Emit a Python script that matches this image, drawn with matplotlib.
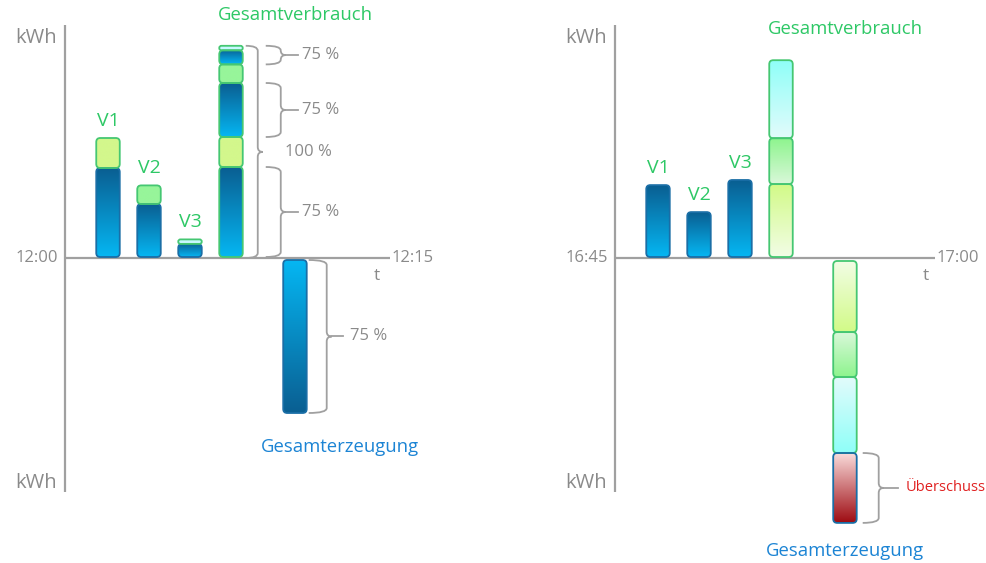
import numpy as np
import matplotlib
matplotlib.use("Agg")
import matplotlib.pyplot as plt
from matplotlib.patches import FancyBboxPatch, PathPatch
from matplotlib.path import Path
from matplotlib.colors import to_rgba

plt.rcParams['font.family'] = ['Open Sans', 'DejaVu Sans']

# ---------------- data ----------------
consumers = ['V1', 'V2', 'V3']
# left panel (12:00 - 12:15): part of each consumer covered by generation / by grid
left_gen_part = [3.0, 1.8, 0.47]
left_grid_part = [1.0, 0.62, 0.15]
left_generation = 5.1
left_times = ['12:00', '12:15']
left_pct = ['75 %', '75 %', '75 %', '100 %', '75 %']
# right panel (16:45 - 17:00)
right_consumption = [2.43, 1.53, 2.6]
right_generation_parts = [2.37, 1.5, 2.53]
right_surplus = 2.33
right_times = ['16:45', '17:00']
unit_label = 'kWh'
time_label = 't'
title_cons = 'Gesamtverbrauch'
title_gen = 'Gesamterzeugung'
surplus_label = 'Überschuss'

# ---------------- styles / layout ----------------
W, H = 987, 563
PXX, PXY = 41.0, 30.0         # pixels per x-unit / per kWh
ASP = PXX / PXY
dx = lambda p: p / PXX
dy = lambda p: p / PXY
POS = [1, 2, 3, 4, 5.56]
BW = dx(23.5)
GRAY = '#8a8a8a'
AXC = '#a0a0a0'
GREEN_T = '#2ec866'
BLUE_T = '#1c84d4'
RED_T = '#e02020'
EDGE_G = '#45c772'
EDGE_B = '#1a6ea6'
BL_DARK, BL_LIGHT = '#0a5f92', '#05b6f2'
ZERO_PX = 258
AX_TOP_PX, AX_BOT_PX = 25, 492

fig = plt.figure(figsize=(W / 100, H / 100), dpi=100)


def make_ax(px_left, px_right, origin_px, line_end_px):
    ax = fig.add_axes([px_left / W, 0, (px_right - px_left) / W, 1])
    ax.set_xlim((px_left - origin_px) / PXX, (px_right - origin_px) / PXX)
    ax.set_ylim(-(H - ZERO_PX) / PXY, ZERO_PX / PXY)
    ax.axis('off')
    xa = (px_left + 2 - origin_px) / PXX
    ax.plot([xa, xa], [dy(ZERO_PX - AX_BOT_PX), dy(ZERO_PX - AX_TOP_PX)], color=AXC, lw=1.6,
            solid_capstyle='butt', zorder=1)
    ax.plot([xa, (line_end_px - origin_px) / PXX], [0, 0], color=AXC, lw=1.6,
            solid_capstyle='butt', zorder=1)
    return ax


def gbar(ax, xc, y0, y1, top, bot, edge, w=BW):
    lo, hi = min(y0, y1), max(y0, y1)
    h = hi - lo
    r = min(dx(4), w / 2, h / (2 * ASP))
    patch = FancyBboxPatch((xc - w / 2, lo), w, h,
                           boxstyle=f"round,pad=0,rounding_size={r}",
                           mutation_aspect=ASP, facecolor='none',
                           edgecolor=edge, lw=1.3, zorder=4)
    ax.add_patch(patch)
    t = np.linspace(0, 1, 64)[:, None]
    c0 = np.array(to_rgba(top))
    c1 = np.array(to_rgba(bot))
    img = (c0 * (1 - t) + c1 * t)[:, None, :]
    im = ax.imshow(img, extent=[xc - w / 2, xc + w / 2, lo, hi], aspect='auto',
                   interpolation='bilinear', origin='upper', zorder=3)
    im.set_clip_path(patch)


def brace(ax, x0, x1, y0, y1, xline=None):
    ym = (y0 + y1) / 2
    rx = dx(5)
    ry = dy(5)
    ry = min(ry, (y1 - y0) / 4)
    verts = [(x0, y1), (x1, y1), (x1, y1 - ry), (x1, ym + ry), (x1, ym), (x1 + rx, ym),
             (x1, ym), (x1, ym - ry), (x1, y0 + ry), (x1, y0), (x0, y0)]
    codes = [Path.MOVETO, Path.CURVE3, Path.CURVE3, Path.LINETO, Path.CURVE3, Path.CURVE3,
             Path.CURVE3, Path.CURVE3, Path.LINETO, Path.CURVE3, Path.CURVE3]
    ax.add_patch(PathPatch(Path(verts, codes), facecolor='none', edgecolor=AXC, lw=1.3,
                           zorder=2, clip_on=False))
    if xline is not None:
        ax.plot([x1 + rx, xline], [ym, ym], color=AXC, lw=1.3, clip_on=False, zorder=2)


def axis_texts(ax, times, origin_px, line_end_px, t_px):
    ax.text(dx(-10), dy(ZERO_PX - 38), unit_label, ha='right', va='center', color=GRAY, fontsize=14.5)
    ax.text(dx(-10), dy(ZERO_PX - 483), unit_label, ha='right', va='center', color=GRAY, fontsize=14.5)
    ax.text(dx(-9), 0, times[0], ha='right', va='center', color=GRAY, fontsize=12)
    ax.text((line_end_px + 2 - origin_px) / PXX, 0, times[1], ha='left', va='center',
            color=GRAY, fontsize=12)
    ax.text((t_px - origin_px) / PXX, dy(-18), time_label, ha='center', va='center',
            color=GRAY, fontsize=12.5)


GAP = dy(1)

# ---------------- left panel ----------------
axL = make_ax(63, 440, 67, 390)
axis_texts(axL, left_times, 67, 390, 377)
grid_cols_left = ['#d3f78c', '#97f59a', '#c8f9ff']
for i, name in enumerate(consumers):
    g, n = left_gen_part[i], left_grid_part[i]
    gbar(axL, POS[i], GAP, g, BL_DARK, BL_LIGHT, EDGE_B)
    gbar(axL, POS[i], g, g + n, grid_cols_left[i], grid_cols_left[i], EDGE_G)
    axL.text(POS[i], g + n + dy(17), name, ha='center', va='center', color=GREEN_T, fontsize=14)
# stacked total consumption
base = GAP
bounds = []
for i in range(3):
    g, n = left_gen_part[i], left_grid_part[i]
    gbar(axL, POS[3], base, base + g, BL_DARK, BL_LIGHT, EDGE_G)
    gbar(axL, POS[3], base + g, base + g + n, grid_cols_left[i], grid_cols_left[i], EDGE_G)
    bounds.append((base, base + g, base + g + n))
    base = base + g + n
stack_top = base
# generation bar
gbar(axL, POS[4], -dy(2), -dy(2) - left_generation, BL_LIGHT, BL_DARK, EDGE_B)
stack_right = POS[3] + BW / 2
brace(axL, stack_right + dx(3), stack_right + dx(15), 0, stack_top)
spans = [(bounds[0][0], bounds[0][1]), (bounds[1][0], bounds[1][1]), (bounds[2][0], bounds[2][2])]
for (a, b), lab in zip(spans, left_pct[:3]):
    brace(axL, stack_right + dx(23), stack_right + dx(38), a, b, stack_right + dx(55))
    axL.text(stack_right + dx(59), (a + b) / 2, lab, ha='left', va='center', color=GRAY, fontsize=12)
axL.text(stack_right + dx(42), stack_top / 2, left_pct[3], ha='left', va='center', color=GRAY, fontsize=12)
gen_right = POS[4] + BW / 2
gy0, gy1 = -dy(2) - left_generation, -dy(2)
brace(axL, gen_right + dx(2), gen_right + dx(20), gy0, gy1, gen_right + dx(36))
axL.text(gen_right + dx(43), (gy0 + gy1) / 2, left_pct[4], ha='left', va='center', color=GRAY, fontsize=12)
axL.text(POS[4], stack_top + dy(31), title_cons, ha='center', va='center', color=GREEN_T, fontsize=13.3)
axL.text(dx(340 - 67), gy0 - dy(34), title_gen, ha='center', va='center', color=BLUE_T, fontsize=13.3)

# ---------------- right panel ----------------
axR = make_ax(613, 987, 617, 935)
axis_texts(axR, right_times, 617, 935, 926)
for i, name in enumerate(consumers):
    v = right_consumption[i]
    gbar(axR, POS[i], GAP, v, BL_DARK, BL_LIGHT, EDGE_B)
    axR.text(POS[i], v + dy(17), name, ha='center', va='center', color=GREEN_T, fontsize=14)
stack_cols = [('#d2fa88', '#f2fde6'), ('#8ef48e', '#d9f8d9'), ('#8ffff8', '#e2fbfb')]
base = GAP
for i in range(3):
    v = right_consumption[i]
    gbar(axR, POS[3], base, base + v, stack_cols[i][0], stack_cols[i][1], EDGE_G)
    base += v
rstack_top = base
# generation bar (mirrored)
base = -dy(3)
for i in range(3):
    v = right_generation_parts[i]
    gbar(axR, POS[4], base, base - v, stack_cols[i][1], stack_cols[i][0], EDGE_G)
    base -= v
gbar(axR, POS[4], base, base - right_surplus, '#f9dada', '#9e0c12', EDGE_B)
s_hi, s_lo = base, base - right_surplus
gen_right = POS[4] + BW / 2
brace(axR, gen_right + dx(6), gen_right + dx(22), s_lo, s_hi, gen_right + dx(41))
axR.text(gen_right + dx(49), (s_lo + s_hi) / 2, surplus_label, ha='left', va='center',
         color=RED_T, fontsize=10.5)
axR.text(POS[4], rstack_top + dy(31), title_cons, ha='center', va='center', color=GREEN_T, fontsize=13.3)
axR.text(POS[4], s_lo - dy(28), title_gen, ha='center', va='center', color=BLUE_T, fontsize=13.3)

fig.savefig('out.png', dpi=100)
